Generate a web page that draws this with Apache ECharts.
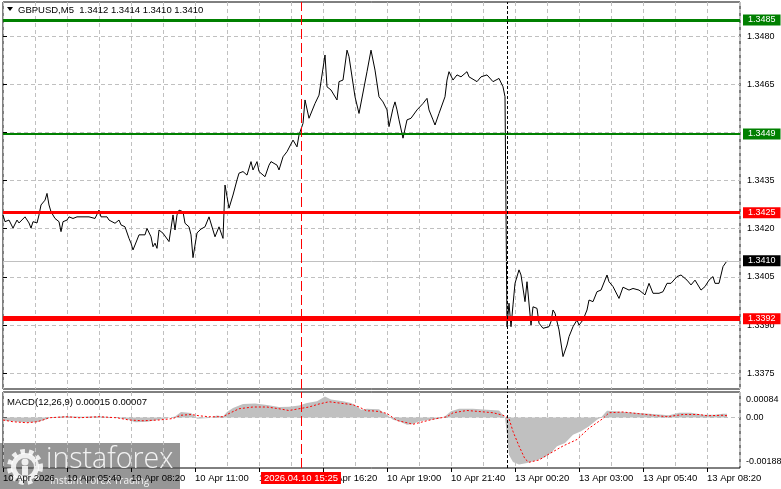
<!DOCTYPE html>
<html>
<head>
<meta charset="utf-8">
<style>
  html, body { margin: 0; padding: 0; background: #fff; }
  #chart { width: 781px; height: 489px; }
</style>
<script src="https://cdn.jsdelivr.net/npm/echarts@6/dist/echarts.min.js"></script>
</head>
<body>
<div id="chart"></div>
<script>
// ---------- data (bar index = M5 bar from the left edge) ----------
const symbolTitle = 'GBPUSD,M5  1.3412 1.3414 1.3410 1.3410';
const macdTitle = 'MACD(12,26,9) 0.00015 0.00007';

const closeSeries = [
  [0,1.34243],[1,1.34222],[3,1.34227],[5,1.34202],[7,1.34227],[8,1.34218],[9,1.34212],[11,1.34237],
  [13,1.34218],[14,1.34202],[15,1.34222],[17,1.34218],[18,1.34243],[19,1.34274],[21,1.34289],[22,1.34310],
  [23,1.34274],[24,1.34253],[25,1.34258],[26,1.34232],[28,1.34222],[29,1.34191],[30,1.34222],[32,1.34227],
  [33,1.34237],[35,1.34232],[37,1.34237],[38,1.34232],[40,1.34237],[43,1.34237],[46,1.34232],[48,1.34258],
  [49,1.34237],[52,1.34237],[53,1.34227],[56,1.34217],[58,1.34227],[59,1.34212],[61,1.34206],[63,1.34170],
  [64,1.34155],[65,1.34134],[67,1.34165],[68,1.34181],[69,1.34177],[71,1.34181],[72,1.34201],[74,1.34175],
  [75,1.34144],[76,1.34155],[77,1.34139],[78,1.34196],[80,1.34186],[81,1.34191],[83,1.34160],[84,1.34201],
  [85,1.34243],[86,1.34196],[87,1.34243],[88,1.34258],[90,1.34253],[91,1.34217],[93,1.34206],[94,1.34181],
  [95,1.34110],[97,1.34187],[99,1.34199],[101,1.34206],[103,1.34237],[106,1.34175],[108,1.34206],[110,1.34170],
  [111,1.34336],[112,1.34300],[113,1.34264],[115,1.34305],[117,1.34352],[118,1.34373],[120,1.34378],[122,1.34367],
  [124,1.34409],[125,1.34383],[127,1.34409],[128,1.34378],[131,1.34362],[133,1.34398],[134,1.34409],[137,1.34398],
  [138,1.34383],[140,1.34424],[142,1.34440],[143,1.34445],[145,1.34476],[147,1.34455],[148,1.34492],[150,1.34528],
  [151,1.34601],[153,1.34544],[156,1.34590],[158,1.34616],[159,1.34658],[161,1.34741],[162,1.34642],[164,1.34632],
  [167,1.34601],[168,1.34658],[170,1.34663],[172,1.34756],[173,1.34736],[176,1.34611],[178,1.34559],[182,1.34689],
  [184,1.34756],[186,1.34694],[188,1.34611],[190,1.34595],[192,1.34570],[193,1.34518],[195,1.34575],[196,1.34595],
  [197,1.34570],[198,1.34539],[200,1.34482],[201,1.34482],[202,1.34539],[204,1.34544],[207,1.34570],[210,1.34590],
  [212,1.34606],[213,1.34570],[215,1.34539],[216,1.34523],[218,1.34559],[221,1.34611],[222,1.34663],[223,1.34689],
  [225,1.34663],[227,1.34679],[229,1.34673],[232,1.34689],[233,1.34673],[237,1.34658],[239,1.34673],[242,1.34679],
  [245,1.34658],[248,1.34668],[249,1.34663],[250,1.34642],[251,1.34611],[252,1.33895],[253,1.33968],[254,1.33895],
  [255,1.33963],[256,1.34030],[258,1.34072],[259,1.34056],[261,1.33973],[262,1.34035],[263,1.34040],[264,1.33900],
  [265,1.33957],[267,1.33952],[268,1.33906],[270,1.33890],[273,1.33895],[274,1.33911],[275,1.33947],[276,1.33937],
  [278,1.33885],[280,1.33802],[282,1.33838],[283,1.33864],[285,1.33895],[287,1.33916],[288,1.33900],[290,1.33916],
  [292,1.33947],[293,1.33978],[295,1.33973],[297,1.34004],[299,1.34009],[300,1.34014],[302,1.34056],[303,1.34035],
  [305,1.34020],[308,1.33983],[310,1.34018],[313,1.34009],[315,1.34014],[318,1.34009],[319,1.34014],[321,1.33994],
  [323,1.34030],[325,1.33999],[328,1.33999],[329,1.33994],[330,1.34004],[332,1.34030],[334,1.34030],[337,1.34051],
  [339,1.34056],[342,1.34040],[344,1.34025],[346,1.34040],[349,1.34009],[351,1.34020],[353,1.34040],[354,1.34040],
  [355,1.34051],[356,1.34030],[358,1.34030],[360,1.34082],[362,1.34100]
];

const macdHist = [
  [0,-0.00013],[5,-0.00015],[10,-0.00019],[17,-0.00019],[21,-0.00009],[24,0],[30,0.00005],[40,0.00003],
  [48,0.00005],[55,0.00001],[63,-0.00009],[66,-0.00019],[72,-0.00017],[78,-0.00009],[82,-0.00003],[86,0.00004],
  [89,0.00022],[94,0.00018],[97,-0.00005],[103,-0.00002],[107,0.00008],[110,0.00004],[112,0.00022],[115,0.00038],
  [120,0.00054],[126,0.00056],[132,0.00050],[138,0.00042],[143,0.00043],[148,0.00048],[152,0.00058],[157,0.00065],
  [161,0.00084],[164,0.00072],[170,0.00065],[174,0.00058],[177,0.00045],[179,0.00031],[182,0.00035],[184,0.00034],
  [188,0.00033],[190,0.00021],[192,0.00011],[195,-0.00009],[198,-0.00015],[202,-0.00029],[205,-0.00026],[208,-0.00015],
  [213,-0.00010],[218,-0.00005],[221,0.00005],[224,0.00025],[228,0.00035],[235,0.00035],[242,0.00031],[248,0.00028],
  [250,0.00010],[251,0],[252,-0.00070],[253,-0.00150],[255,-0.00178],[258,-0.00188],[262,-0.00182],[266,-0.00173],
  [270,-0.00162],[274,-0.00142],[277,-0.00115],[281,-0.00102],[285,-0.00069],[289,-0.00055],[293,-0.00035],[297,-0.00009],
  [299,0],[302,0.00027],[306,0.00025],[312,0.00021],[320,0.00017],[328,0.00012],[333,0.00009],[338,0.00019],
  [344,0.00019],[350,0.00011],[356,0.00011],[360,0.00015],[362,0.00015]
];

const macdSignal = [
  [0,-0.00010],[5,-0.00017],[12,-0.00021],[17,-0.00017],[20,-0.00010],[23,-0.00001],[32,0.00003],[38,-0.00001],
  [48,0.00003],[57,-0.00001],[63,-0.00010],[70,-0.00013],[78,-0.00010],[85,-0.00004],[89,0.00009],[94,0.00012],
  [98,0.00007],[103,0.00003],[110,0.00003],[113,0.00016],[118,0.00035],[125,0.00042],[132,0.00042],[138,0.00035],
  [143,0.00028],[148,0.00035],[153,0.00042],[158,0.00054],[163,0.00063],[168,0.00058],[175,0.00051],[178,0.00042],
  [182,0.00026],[184,0.00027],[188,0.00024],[192,0.00016],[197,-0.00012],[202,-0.00021],[205,-0.00027],[210,-0.00017],
  [215,-0.00007],[222,0.00003],[225,0.00019],[232,0.00028],[238,0.00024],[245,0.00019],[250,0.00009],[253,-0.00004],
  [255,-0.00056],[258,-0.00114],[261,-0.00166],[263,-0.00179],[268,-0.00170],[273,-0.00146],[280,-0.00114],[287,-0.00088],
  [293,-0.00043],[300,-0.00004],[303,0.00019],[310,0.00022],[317,0.00016],[325,0.00009],[332,0.00003],[340,0.00012],
  [348,0.00012],[352,0.00007],[360,0.00009],[362,0.00007]
];

const levelValues = [1.3485, 1.34495, 1.3425, 1.3392];
const levelLabels = ['1.3485', '1.3449', '1.3425', '1.3392'];
const currentPrice = 1.3410;
const currentLabel = '1.3410';

const priceTicks = [1.3375, 1.3390, 1.3405, 1.3420, 1.3435, 1.3450, 1.3465, 1.3480];
const macdTicks = [-0.00188, 0, 0.00084];
const macdTickLabels = ['-0.00188', '0.00', '0.00084'];

const timeTickBars = [0, 32, 64, 96, 128, 160, 192, 224, 256, 288, 320, 352];
const timeLabels = ['10 Apr 2026', '10 Apr 05:40', '10 Apr 08:20', '10 Apr 11:00', '10 Apr 13:40',
  '10 Apr 16:20', '10 Apr 19:00', '10 Apr 21:40', '13 Apr 00:20', '13 Apr 03:00', '13 Apr 05:40', '13 Apr 08:20'];

const selectedBar = 149;
const selectedStamp = '2026.04.10 15:25';
const sessionBar = 252;

// ---------- styles ----------
const FONT = '"Liberation Sans", Arial, sans-serif';
const levelColors = ['#008000', '#008000', '#ff0000', '#ff0000'];
const levelWidths = [3, 2, 3, 5];
const GRIDLINE = { color: '#c0c0c0', type: [4, 3], width: 1 };

const chart = echarts.init(document.getElementById('chart'), null, { renderer: 'canvas' });

const levelMarks = levelValues.map((v, i) => ({
  yAxis: v,
  lineStyle: { color: levelColors[i], width: levelWidths[i], type: 'solid' },
  label: {
    show: true, position: 'end', distance: 3, formatter: levelLabels[i],
    backgroundColor: levelColors[i], color: '#fff', fontSize: 9, fontFamily: FONT,
    padding: [1, 5, 1, 5], lineHeight: 9
  }
}));

const verticalMarks = (withStamp) => [
  {
    xAxis: selectedBar,
    lineStyle: { color: '#ff0000', width: 1, type: [10, 4] },
    label: withStamp ? {
      show: true, position: 'start', distance: 4, formatter: selectedStamp,
      backgroundColor: '#ff0000', color: '#fff', fontSize: 9.5, fontFamily: FONT,
      padding: [1, 3, 1, 3], lineHeight: 10
    } : { show: false }
  },
  {
    xAxis: sessionBar,
    lineStyle: { color: '#000', width: 1, type: [3, 2] },
    label: { show: false }
  }
];

const xBase = (gi) => ({
  gridIndex: gi, type: 'value', min: 0, max: 368.5, interval: 16,
  axisLine: { show: false }, axisTick: { show: false }, axisLabel: { show: false },
  splitLine: { show: true, lineStyle: GRIDLINE }
});

const option = {
  animation: false,
  backgroundColor: '#fff',
  textStyle: { fontFamily: FONT },
  title: [
    { text: symbolTitle, left: 18, top: 5, padding: 0, textStyle: { fontSize: 9.5, fontWeight: 'normal', color: '#000', fontFamily: FONT } },
    { text: macdTitle, left: 7, top: 397, padding: 0, textStyle: { fontSize: 9.5, fontWeight: 'normal', color: '#000', fontFamily: FONT } }
  ],
  grid: [
    { left: 3, top: 2, width: 737, height: 387, show: true, borderColor: '#000', borderWidth: 1, backgroundColor: '#fff', outerBoundsMode: 'none' },
    { left: 3, top: 392, width: 737, height: 76, show: true, borderColor: '#000', borderWidth: 1, backgroundColor: '#fff', outerBoundsMode: 'none' }
  ],
  xAxis: [
    xBase(0),
    xBase(1),
    {
      gridIndex: 1, type: 'value', min: 0, max: 368.5, position: 'bottom',
      axisLine: { show: false },
      axisTick: { show: true, customValues: timeTickBars, length: 4, lineStyle: { color: '#000' } },
      axisLabel: {
        show: true, customValues: timeTickBars, align: 'left', margin: 5,
        fontSize: 9.5, color: '#000', fontFamily: FONT,
        formatter: (v) => timeLabels[timeTickBars.indexOf(Math.round(v))] || ''
      },
      splitLine: { show: false }
    }
  ],
  yAxis: [
    {
      gridIndex: 0, type: 'value', position: 'right', min: 1.33701, max: 1.34906,
      axisLine: { show: false },
      axisTick: { show: true, customValues: priceTicks, length: 4, lineStyle: { color: '#000' } },
      axisLabel: { customValues: priceTicks, margin: 7, fontSize: 9, color: '#000', fontFamily: FONT,
        formatter: (v) => Number(v).toFixed(4) },
      splitLine: { show: true, lineStyle: GRIDLINE }
    },
    {
      gridIndex: 1, type: 'value', position: 'right', min: -0.00202, max: 0.00102,
      axisLine: { show: false },
      axisTick: { show: true, customValues: [0], length: 4, lineStyle: { color: '#000' } },
      axisLabel: {
        customValues: macdTicks, margin: 6, fontSize: 9, color: '#000', fontFamily: FONT,
        formatter: (v) => {
          const i = macdTicks.findIndex(t => Math.abs(t - v) < 1e-9);
          const s = macdTickLabels[i];
          if (v > 0) return '{dn|' + s + '}';
          if (v < 0) return '{up|' + s + '}';
          return s;
        },
        rich: {
          dn: { padding: [7, 0, 0, 0], fontSize: 9, fontFamily: FONT, color: '#000' },
          up: { padding: [0, 0, 5, 0], fontSize: 9, fontFamily: FONT, color: '#000' }
        }
      },
      splitLine: { show: true, lineStyle: GRIDLINE }
    }
  ],
  series: [
    {
      name: 'close', type: 'line', xAxisIndex: 0, yAxisIndex: 0, data: closeSeries,
      showSymbol: false, symbol: 'none', clip: false, z: 3,
      lineStyle: { color: '#000', width: 1 },
      markLine: {
        silent: true, symbol: ['none', 'none'], animation: false, precision: 6,
        data: [
          {
            yAxis: currentPrice,
            lineStyle: { color: '#c0c0c0', width: 1, type: 'solid' },
            label: {
              show: true, position: 'end', distance: 3, formatter: currentLabel,
              backgroundColor: '#000', color: '#fff', fontSize: 9, fontFamily: FONT,
              padding: [1, 5, 1, 5], lineHeight: 9
            }
          },
          ...levelMarks,
          ...verticalMarks(false)
        ]
      }
    },
    {
      name: 'MACD', type: 'line', xAxisIndex: 1, yAxisIndex: 1, data: macdHist,
      showSymbol: false, symbol: 'none', clip: false, z: 2,
      lineStyle: { opacity: 0, width: 0 },
      areaStyle: { color: '#c0c0c0', opacity: 1 },
      markLine: {
        silent: true, symbol: ['none', 'none'], animation: false, precision: 6,
        data: verticalMarks(true)
      }
    },
    {
      name: 'Signal', type: 'line', xAxisIndex: 1, yAxisIndex: 1, data: macdSignal,
      showSymbol: false, symbol: 'none', clip: false, z: 3,
      lineStyle: { color: '#ff0000', width: 1, type: [2, 2] }
    }
  ],
  graphic: [
    { type: 'polygon', shape: { points: [[7, 7], [13, 7], [10, 11]] }, style: { fill: '#000' }, z: 50 },
    {
      type: 'group', x: 0, y: 443, z: 100,
      children: [
        { type: 'rect', shape: { x: 0, y: 0, width: 180, height: 46 }, style: { fill: 'rgba(85,85,85,0.62)' } },
        { type: 'circle', shape: { cx: 25, cy: 24, r: 15.5 }, style: { fill: 'none', stroke: 'rgba(255,255,255,0.85)', lineWidth: 5, lineDash: [4.5, 4] } },
        { type: 'circle', shape: { cx: 25, cy: 24, r: 11.5 }, style: { fill: 'none', stroke: 'rgba(255,255,255,0.85)', lineWidth: 5 } },
        { type: 'circle', shape: { cx: 25, cy: 19, r: 3.5 }, style: { fill: 'rgba(255,255,255,0.85)' } },
        { type: 'rect', shape: { x: 22, y: 23, width: 6, height: 9 }, style: { fill: 'rgba(255,255,255,0.85)' } },
        { type: 'text', x: 46, y: 17, style: { text: 'instaforex', font: '300 28.5px "Open Sans", "Liberation Sans", sans-serif', fill: 'rgba(255,255,255,0.88)', verticalAlign: 'middle' } },
        { type: 'text', x: 50, y: 38, style: { text: 'Instant Forex Trading', font: '10px "Open Sans", "Liberation Sans", sans-serif', fill: 'rgba(255,255,255,0.88)', verticalAlign: 'middle' } }
      ]
    }
  ]
};

chart.setOption(option);
</script>
</body>
</html>
